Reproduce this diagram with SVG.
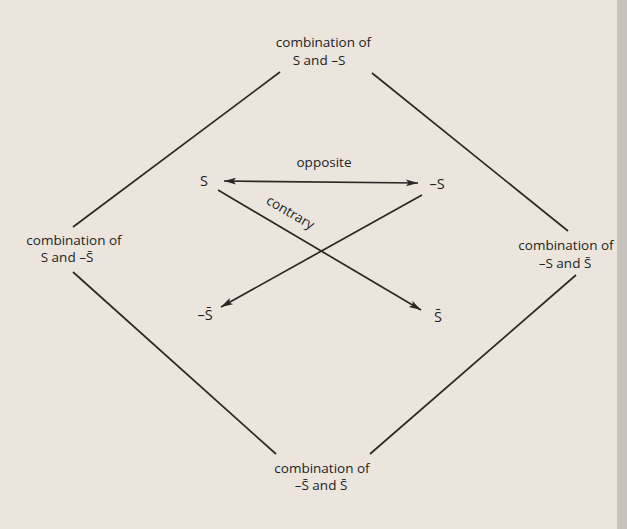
<svg xmlns="http://www.w3.org/2000/svg" width="627" height="529" viewBox="0 0 627 529">
<style>
  .t { font-family: "Open Sans", "Liberation Sans", sans-serif; font-size: 13.5px; fill: #221f1d; text-anchor: middle; }
  .big { font-size: 14.5px; }
  .ln { stroke: #2a2725; stroke-width: 1.7; fill: none; }
</style>
<defs>
  <marker id="ah" markerUnits="userSpaceOnUse" markerWidth="13" markerHeight="8" refX="12" refY="4" orient="auto-start-reverse">
    <path d="M0,0.5 L12,4 L0,7.5 L2.5,4 z" fill="#2a2725"/>
  </marker>
</defs>
<rect width="627" height="529" fill="#ebe5de"/>
<rect x="617" y="0" width="10" height="529" fill="#c8c2bc"/>

<g id="connectors">
  <line class="ln" x1="280" y1="72" x2="73" y2="227"/>
  <line class="ln" x1="372" y1="73" x2="568" y2="231"/>
  <line class="ln" x1="73" y1="272" x2="276" y2="454"/>
  <line class="ln" x1="576" y1="275" x2="370" y2="454"/>
  <line class="ln" x1="224" y1="181" x2="418" y2="183" marker-start="url(#ah)" marker-end="url(#ah)"/>
  <line class="ln" x1="218" y1="190" x2="421" y2="310" marker-end="url(#ah)"/>
  <line class="ln" x1="422" y1="195" x2="221" y2="307" marker-end="url(#ah)"/>
  <text class="t" x="324" y="167">opposite</text>
  <text class="t" transform="translate(290,213) rotate(30.5)" x="0" y="4">contrary</text>
</g>

<g id="top">
  <text class="t" x="323.5" y="47">combination of</text>
  <text class="t" x="319" y="65">S and –S</text>
</g>
<g id="left">
  <text class="t" x="74" y="245">combination of</text>
  <text class="t" x="67" y="262">S and –S&#x304;</text>
</g>
<g id="right">
  <text class="t" x="566" y="250">combination of</text>
  <text class="t" x="565" y="268">–S and S&#x304;</text>
</g>
<g id="bottom">
  <text class="t" x="322" y="473">combination of</text>
  <text class="t" x="321" y="490">–S&#x304; and S&#x304;</text>
</g>
<g id="s">
  <text class="t big" x="204" y="186">S</text>
</g>
<g id="not-s">
  <text class="t big" x="437" y="189">–S</text>
</g>
<g id="not-s-bar">
  <text class="t big" x="205" y="320">–S&#x304;</text>
</g>
<g id="s-bar">
  <text class="t big" x="438" y="322">S&#x304;</text>
</g>
</svg>
